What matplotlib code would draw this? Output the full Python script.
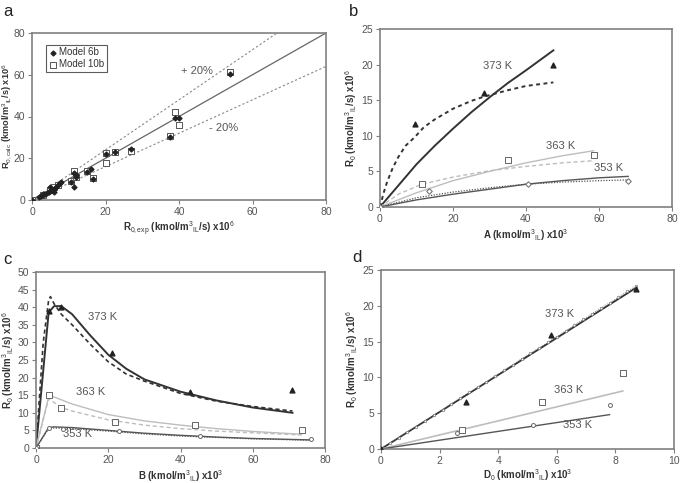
import matplotlib
matplotlib.use("Agg")
import matplotlib.pyplot as plt
import numpy as np

plt.rcParams['font.family'] = ['Liberation Sans', 'DejaVu Sans']
plt.rcParams['mathtext.fontset'] = 'custom'
plt.rcParams['mathtext.rm'] = 'Liberation Sans'
plt.rcParams['mathtext.it'] = 'Liberation Sans'
plt.rcParams['mathtext.bf'] = 'Liberation Sans:bold'

# ---------------- Panel a data ----------------
a_6b_x = [0, 2, 2.5, 3, 3.5, 4, 4.5, 5, 5.5, 6, 6.5, 7, 7.5, 8, 3, 5, 6, 10.5, 11.5, 11.5, 12, 12, 15, 16, 16.5, 20, 22.5, 27, 37.5, 39, 40, 54]
a_6b_y = [0, 1.5, 2, 2.5, 3, 3.5, 4, 4.5, 5, 5.5, 6, 7, 8, 8.5, 3, 6, 4, 8.5, 6, 13, 12, 11, 13.5, 15, 10, 22, 23, 24.5, 30, 39.5, 39.5, 60.5]
a_10b_x = [0, 3, 5, 6, 7, 10.5, 11.5, 12, 15, 16.5, 20, 20, 22.5, 27, 37.5, 39, 40, 54]
a_10b_y = [0, 2.5, 5, 6, 7, 9, 14, 11, 14, 10.5, 17.5, 22.5, 23, 23.5, 30.5, 42, 36, 61.5]
a_parity_x = [0, 80]
a_band_factors = [1.2, 0.8]
a_band_labels = ['+ 20%', '- 20%']

# ---------------- Panel b data ----------------
b_373_x = [0, 9.5, 28.5, 47.5]
b_373_y = [0, 11.6, 16, 20]
b_373_solid_x = [0, 5, 10, 15, 20, 25, 30, 35, 40, 47.5]
b_373_solid_y = [0, 3, 6, 8.6, 11, 13.3, 15.4, 17.4, 19.2, 22]
b_373_dash_x = [0, 1, 2, 3.5, 5, 7, 9.5, 12, 15, 20, 25, 28.5, 35, 40, 47.5]
b_373_dash_y = [0, 2, 3.6, 5.5, 7, 8.6, 9.8, 11.2, 12.3, 13.8, 14.9, 15.5, 16.4, 17, 17.5]
b_363_x = [11.5, 35, 58.5]
b_363_y = [3.3, 6.6, 7.3]
b_363_solid_x = [0, 10, 20, 30, 40, 50, 58.5]
b_363_solid_y = [0, 2, 3.7, 5, 6.2, 7.2, 7.9]
b_363_dash_x = [0, 5, 11.5, 20, 30, 40, 50, 58.5]
b_363_dash_y = [0, 1.8, 3.2, 4.2, 5.1, 5.7, 6.2, 6.5]
b_353_x = [0, 13.5, 40.5, 68]
b_353_y = [0, 2.2, 3.3, 3.7]
b_353_solid_x = [0, 10, 20, 30, 40, 50, 60, 68]
b_353_solid_y = [0, 1.0, 1.8, 2.5, 3.2, 3.7, 4.1, 4.3]
b_353_dot_x = [0, 10, 20, 30, 40, 50, 60, 68]
b_353_dot_y = [0, 1.3, 2.1, 2.7, 3.2, 3.5, 3.7, 3.8]

# ---------------- Panel c data ----------------
c_373_x = [0, 3.5, 7, 21, 42.5, 71]
c_373_y = [0, 39, 40, 27, 16, 16.5]
c_373_solid_x = [0, 3.5, 5, 7, 10, 15, 20, 25, 30, 40, 50, 60, 71]
c_373_solid_y = [0, 38.5, 40.3, 40.3, 38, 32, 26.5, 22.5, 19.5, 16, 13.5, 11.5, 10]
c_373_dash_x = [0, 2, 3.5, 4, 5, 7, 10, 15, 20, 25, 30, 40, 50, 60, 71]
c_373_dash_y = [0, 30, 42, 43, 41, 38, 35, 29.5, 24.5, 21, 19, 15.5, 13.3, 11.8, 10.5]
c_363_x = [0, 3.5, 7, 22, 44, 73.5]
c_363_y = [0, 15, 11.5, 7.3, 6.5, 5]
c_363_solid_x = [0, 3.5, 5, 10, 20, 30, 40, 50, 60, 73.5]
c_363_solid_y = [0, 14.5, 14.5, 12.5, 9.5, 7.7, 6.5, 5.5, 4.7, 3.9]
c_363_dash_x = [0, 3.5, 7, 10, 20, 30, 40, 50, 60, 73.5]
c_363_dash_y = [0, 14, 11.5, 10.5, 8, 6.5, 5.5, 4.8, 4.3, 3.7]
c_353_x = [0, 3.5, 7.5, 23, 45.5, 76]
c_353_y = [0, 5.8, 5.3, 4.7, 3.3, 2.6]
c_353_solid_x = [0, 3.5, 5, 10, 20, 30, 40, 50, 60, 76]
c_353_solid_y = [0, 5.8, 6, 5.8, 5, 4.2, 3.6, 3.1, 2.7, 2.3]
c_353_dot_x = [0, 3.5, 5, 10, 20, 30, 40, 50, 60, 76]
c_353_dot_y = [0, 5.5, 5.7, 5.5, 4.8, 4.0, 3.4, 3.0, 2.6, 2.2]

# ---------------- Panel d data ----------------
d_373_x = [0, 2.9, 5.8, 8.7]
d_373_y = [0, 6.6, 15.9, 22.4]
d_373_solid_x = [0, 8.7]
d_373_solid_y = [0, 22.5]
d_373_model_x = [0.3, 0.6, 0.9, 1.2, 1.5, 1.8, 2.1, 2.4, 2.7, 3.0, 3.3, 3.6, 3.9, 4.2, 4.5,
                 4.8, 5.1, 5.4, 5.7, 6.0, 6.3, 6.6, 6.9, 7.2, 7.5, 7.8, 8.1, 8.4, 8.7]
d_373_model_y = [0.8, 1.6, 2.4, 3.1, 3.9, 4.7, 5.5, 6.3, 7.1, 7.9, 8.6, 9.4, 10.2, 11.0, 11.8,
                 12.6, 13.4, 14.1, 14.9, 15.7, 16.5, 17.3, 18.1, 18.9, 19.7, 20.4, 21.2, 22.0, 22.8]
d_363_x = [2.75, 5.5, 8.25]
d_363_y = [2.6, 6.6, 10.6]
d_363_line_x = [0, 8.25]
d_363_line_y = [0, 8.1]
d_353_x = [2.6, 5.2, 7.8]
d_353_y = [2.2, 3.4, 6.2]
d_353_line_x = [0, 7.8]
d_353_line_y = [0, 4.8]

DARK = '#333333'
MID = '#555555'
LIGHT = '#bdbdbd'
SPINE = '#808080'
TICKC = '#555555'

fig = plt.figure(figsize=(6.82, 4.83), dpi=100)

def add_ax(l, t, r, b):
    W, H = 682.0, 483.0
    return fig.add_axes([l / W, 1 - b / H, (r - l) / W, (b - t) / H])

def style(ax):
    for s in ax.spines.values():
        s.set_color(SPINE)
        s.set_linewidth(1.2)
    ax.tick_params(direction='out', length=3, width=0.8, color=SPINE,
                   labelsize=7.5, labelcolor=TICKC, pad=2)

lab_kw = dict(fontsize=7, fontweight='bold', color='#333333')
txt_kw = dict(fontsize=8, color='#555555')

# ---- Panel a ----
ax = add_ax(32, 33, 326, 200)
style(ax)
ax.plot(a_parity_x, a_parity_x, color='#666666', lw=0.9)
for f in a_band_factors:
    ax.plot(a_parity_x, [v * f for v in a_parity_x], color='#888888', lw=0.8, ls=(0, (2, 2)))
ax.scatter(a_10b_x, a_10b_y, marker='s', s=15, facecolors='white', edgecolors='#555555', linewidths=0.7, zorder=3, label='Model 10b')
ax.scatter(a_6b_x, a_6b_y, marker='D', s=6, color='#222222', zorder=4, label='Model 6b')
ax.text(45, 62, a_band_labels[0], **txt_kw, ha='center', va='center')
ax.text(52, 34.5, a_band_labels[1], **txt_kw, ha='center', va='center')
ax.set_xlim(0, 80); ax.set_ylim(0, 80)
ax.set_xticks([0, 20, 40, 60, 80]); ax.set_yticks([0, 20, 40, 60, 80])
h, l = ax.get_legend_handles_labels()
leg = ax.legend(h[::-1], l[::-1], loc='upper left', fontsize=7, frameon=True, fancybox=False,
                edgecolor='#333333', borderpad=0.3, handletextpad=0.1, labelspacing=0.2,
                handlelength=1.0, bbox_to_anchor=(0.03, 0.96))
leg.get_frame().set_linewidth(0.8)
for t in leg.get_texts():
    t.set_color('#333333')
ax.set_xlabel(r'R$_{0,exp}$ (kmol/m$^3$$_{IL}$/s) x10$^6$', **lab_kw, labelpad=2)
ax.set_ylabel(r'R$_{0,calc}$ (kmol/m$^3$$_{IL}$/s) x10$^6$', fontsize=6.6, fontweight='bold', color='#333333')
ax.yaxis.set_label_coords(-0.06, 0.5)
fig.text(3 / 682, 1 - 12 / 483, 'a', fontsize=12, color='#222222', va='center')

# ---- Panel b ----
ax = add_ax(380, 29, 672, 207)
style(ax)
ax.plot(b_373_solid_x, b_373_solid_y, color=DARK, lw=1.4)
ax.plot(b_373_dash_x, b_373_dash_y, color=DARK, lw=1.4, ls=(0, (2, 1.8)))
ax.plot(b_363_solid_x, b_363_solid_y, color=LIGHT, lw=1.0)
ax.plot(b_363_dash_x, b_363_dash_y, color=LIGHT, lw=1.0, ls=(0, (3, 2)))
ax.plot(b_353_solid_x, b_353_solid_y, color=MID, lw=1.0)
ax.plot(b_353_dot_x, b_353_dot_y, color=MID, lw=0.9, ls=(0, (1, 1.2)))
ax.scatter(b_373_x, b_373_y, marker='^', s=12, color='#222222', zorder=4)
ax.scatter(b_363_x, b_363_y, marker='s', s=14, facecolors='white', edgecolors='#666666', linewidths=0.7, zorder=4)
ax.scatter(b_353_x, b_353_y, marker='D', s=8, facecolors='white', edgecolors='#666666', linewidths=0.7, zorder=4)
ax.text(32.3, 19.8, '373 K', **txt_kw, ha='center', va='center')
ax.text(49.6, 8.6, '363 K', **txt_kw, ha='center', va='center')
ax.text(62.5, 5.5, '353 K', **txt_kw, ha='center', va='center')
ax.set_xlim(0, 80); ax.set_ylim(0, 25)
ax.set_xticks([0, 20, 40, 60, 80]); ax.set_yticks([0, 5, 10, 15, 20, 25])
ax.set_xlabel(r'A (kmol/m$^3$$_{IL}$) x10$^3$', **lab_kw, labelpad=2)
ax.set_ylabel(r'R$_0$ (kmol/m$^3$$_{IL}$/s) x10$^6$', **lab_kw, labelpad=2)
fig.text(349 / 682, 1 - 12 / 483, 'b', fontsize=12, color='#222222', va='center')

# ---- Panel c ----
ax = add_ax(36, 272, 325, 448)
style(ax)
ax.plot(c_373_solid_x, c_373_solid_y, color=DARK, lw=1.4)
ax.plot(c_373_dash_x, c_373_dash_y, color=DARK, lw=1.2, ls=(0, (2.5, 1.8)))
ax.plot(c_363_solid_x, c_363_solid_y, color=LIGHT, lw=1.0)
ax.plot(c_363_dash_x, c_363_dash_y, color=LIGHT, lw=1.0, ls=(0, (3, 2)))
ax.plot(c_353_solid_x, c_353_solid_y, color=MID, lw=1.0)
ax.plot(c_353_dot_x, c_353_dot_y, color=MID, lw=0.9, ls=(0, (1, 1.2)))
ax.scatter(c_373_x, c_373_y, marker='^', s=12, color='#222222', zorder=4)
ax.scatter(c_363_x, c_363_y, marker='s', s=14, facecolors='white', edgecolors='#666666', linewidths=0.7, zorder=4)
ax.scatter(c_353_x, c_353_y, marker='o', s=8, facecolors='white', edgecolors='#666666', linewidths=0.7, zorder=4)
ax.text(18.5, 37.2, '373 K', **txt_kw, ha='center', va='center')
ax.text(15, 16, '363 K', **txt_kw, ha='center', va='center')
ax.text(11.6, 4, '353 K', **txt_kw, ha='center', va='center')
ax.set_xlim(0, 80); ax.set_ylim(0, 50)
ax.set_xticks([0, 20, 40, 60, 80]); ax.set_yticks(np.arange(0, 51, 5))
ax.set_xlabel(r'B (kmol/m$^3$$_{IL}$) x10$^3$', **lab_kw, labelpad=2)
ax.set_ylabel(r'R$_0$ (kmol/m$^3$$_{IL}$/s) x10$^6$', **lab_kw, labelpad=1)
fig.text(3 / 682, 1 - 260 / 483, 'c', fontsize=12, color='#222222', va='center')

# ---- Panel d ----
ax = add_ax(381, 270, 674, 449)
style(ax)
ax.plot(d_373_solid_x, d_373_solid_y, color=DARK, lw=1.3)
ax.plot(d_373_model_x, d_373_model_y, color='#666666', lw=0.6, ls=(0, (1, 1.5)),
        marker='o', markersize=1.8, markerfacecolor='white', markeredgecolor='#777777', markeredgewidth=0.5)
ax.plot(d_363_line_x, d_363_line_y, color=LIGHT, lw=1.2)
ax.plot(d_353_line_x, d_353_line_y, color=MID, lw=1.0)
ax.scatter(d_373_x, d_373_y, marker='^', s=12, color='#222222', zorder=4)
ax.scatter(d_363_x, d_363_y, marker='s', s=14, facecolors='white', edgecolors='#666666', linewidths=0.7, zorder=4)
ax.scatter(d_353_x, d_353_y, marker='o', s=8, facecolors='white', edgecolors='#666666', linewidths=0.7, zorder=4)
ax.text(6.1, 18.9, '373 K', **txt_kw, ha='center', va='center')
ax.text(6.4, 8.3, '363 K', **txt_kw, ha='center', va='center')
ax.text(6.7, 3.3, '353 K', **txt_kw, ha='center', va='center')
ax.set_xlim(0, 10); ax.set_ylim(0, 25)
ax.set_xticks([0, 2, 4, 6, 8, 10]); ax.set_yticks([0, 5, 10, 15, 20, 25])
ax.set_xlabel(r'D$_0$ (kmol/m$^3$$_{IL}$) x10$^3$', **lab_kw, labelpad=1)
ax.set_ylabel(r'R$_0$ (kmol/m$^3$$_{IL}$/s) x10$^6$', **lab_kw, labelpad=2)
fig.text(352 / 682, 1 - 258 / 483, 'd', fontsize=12, color='#222222', va='center')

fig.savefig('out.png', dpi=100)
